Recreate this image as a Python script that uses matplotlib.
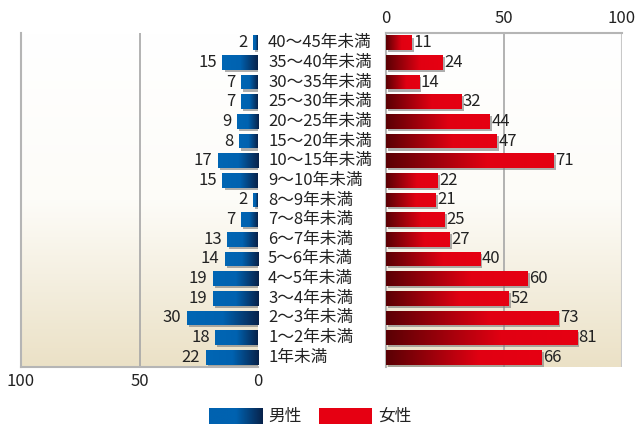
import numpy as np
import matplotlib
matplotlib.use("Agg")
import matplotlib.pyplot as plt
from matplotlib.colors import LinearSegmentedColormap
from matplotlib import patheffects as pe

plt.rcParams['font.family'] = ['Noto Sans CJK JP', 'DejaVu Sans']

categories = ["40～45年未満", "35～40年未満", "30～35年未満", "25～30年未満",
              "20～25年未満", "15～20年未満", "10～15年未満", "9～10年未満",
              "8～9年未満", "7～8年未満", "6～7年未満", "5～6年未満",
              "4～5年未満", "3～4年未満", "2～3年未満", "1～2年未満", "1年未満"]
male = [2, 15, 7, 7, 9, 8, 17, 15, 2, 7, 13, 14, 19, 19, 30, 18, 22]
female = [11, 24, 14, 32, 44, 47, 71, 22, 21, 25, 27, 40, 60, 52, 73, 81, 66]
ticks = [0, 50, 100]
legend_labels = ["男性", "女性"]

W, H, DPI = 640, 424, 100
fig = plt.figure(figsize=(W / DPI, H / DPI), dpi=DPI)

def frac(x0, y0, x1, y1):
    return [x0 / W, 1 - y1 / H, (x1 - x0) / W, (y1 - y0) / H]

ax_l = fig.add_axes(frac(21, 33, 258, 367))
ax_r = fig.add_axes(frac(386, 33, 622, 367))

bg_cmap = LinearSegmentedColormap.from_list("bg", ["#ffffff", "#fdfcf8", "#ebe1c6"])
blue_cmap = LinearSegmentedColormap.from_list(
    "blue", [(0.0, "#08224a"), (0.5, "#0062b0"), (1.0, "#0066b4")])
red_cmap = LinearSegmentedColormap.from_list(
    "red", [(0.0, "#5a0004"), (0.6, "#e10012"), (1.0, "#e60012")])

n = len(categories)
ypos = np.arange(n)
grad = np.linspace(0, 1, 256).reshape(1, -1)
vgrad = np.linspace(0, 1, 256).reshape(-1, 1)
FS = 12

for ax in (ax_l, ax_r):
    ax.imshow(vgrad, cmap=bg_cmap, aspect='auto', extent=[0, 1, 0, 1],
              transform=ax.transAxes, zorder=0)
    ax.set_ylim(n - 0.5, -0.5)
    ax.set_yticks([])
    ax.set_xticks(ticks)
    ax.axvline(50, color="#a6a6a6", lw=1.2, zorder=1)
    for s in ax.spines.values():
        s.set_color("#b5b5b5")
        s.set_linewidth(1.5)
    ax.tick_params(length=0, labelsize=FS, pad=4, colors="#222222")

# left panel (male)
ax_l.set_xlim(100, 0)
ax_l.spines['top'].set_visible(False)
ax_l.spines['right'].set_visible(False)
# right panel (female)
ax_r.set_xlim(0, 100)
ax_r.xaxis.tick_top()
ax_r.spines['bottom'].set_visible(False)
ax_r.spines['right'].set_visible(False)
ax_r.axvline(100, color="#c8c8c8", lw=1.5, zorder=1)

shadow = [pe.SimplePatchShadow(offset=(1.5, -1.5), shadow_rgbFace="#7a7a7a", alpha=0.6),
          pe.Normal()]

def gradient_bars(ax, values, cmap):
    bars = ax.barh(ypos, values, height=0.75, facecolor="none", edgecolor="none",
                   zorder=2, path_effects=shadow)
    for b, v in zip(bars, values):
        im = ax.imshow(grad, cmap=cmap, aspect='auto', zorder=3,
                       extent=[0, v, b.get_y() + b.get_height(), b.get_y()])
        im.set_clip_path(b)
    return bars

gradient_bars(ax_l, male, blue_cmap)
gradient_bars(ax_r, female, red_cmap)

for y, v in zip(ypos, male):
    ax_l.annotate(str(v), (v, y), xytext=(-4, 0), textcoords="offset points",
                  ha="right", va="center", fontsize=FS, color="#222222", zorder=4)
for y, v in zip(ypos, female):
    ax_r.annotate(str(v), (v, y), xytext=(1, 0), textcoords="offset points",
                  ha="left", va="center", fontsize=FS, color="#222222", zorder=4)

# category labels in the gap between panels
for y, c in zip(ypos, categories):
    ax_r.annotate(c, (0, y), xycoords="data", xytext=(268 - 386, 0),
                  textcoords="offset pixels", ha="left", va="center",
                  fontsize=12, color="#222222", annotation_clip=False)

# legend
lax = fig.add_axes([0, 0, 1, 1], facecolor="none")
lax.axis("off")
lax.imshow(grad, cmap=LinearSegmentedColormap.from_list(
    "lb", [(0.0, "#0062b0"), (0.5, "#0062b0"), (1.0, "#08224a")]),
    aspect='auto', extent=[209, 263, 424, 408])
lax.add_patch(plt.Rectangle((319, 408), 53, 16, facecolor="#e60012", edgecolor="none"))
lax.text(268, 416, legend_labels[0], ha="left", va="center", fontsize=12, color="#222222")
lax.text(378, 416, legend_labels[1], ha="left", va="center", fontsize=12, color="#222222")
lax.set_xlim(0, W)
lax.set_ylim(H, 0)

fig.savefig("out.png", dpi=DPI)
